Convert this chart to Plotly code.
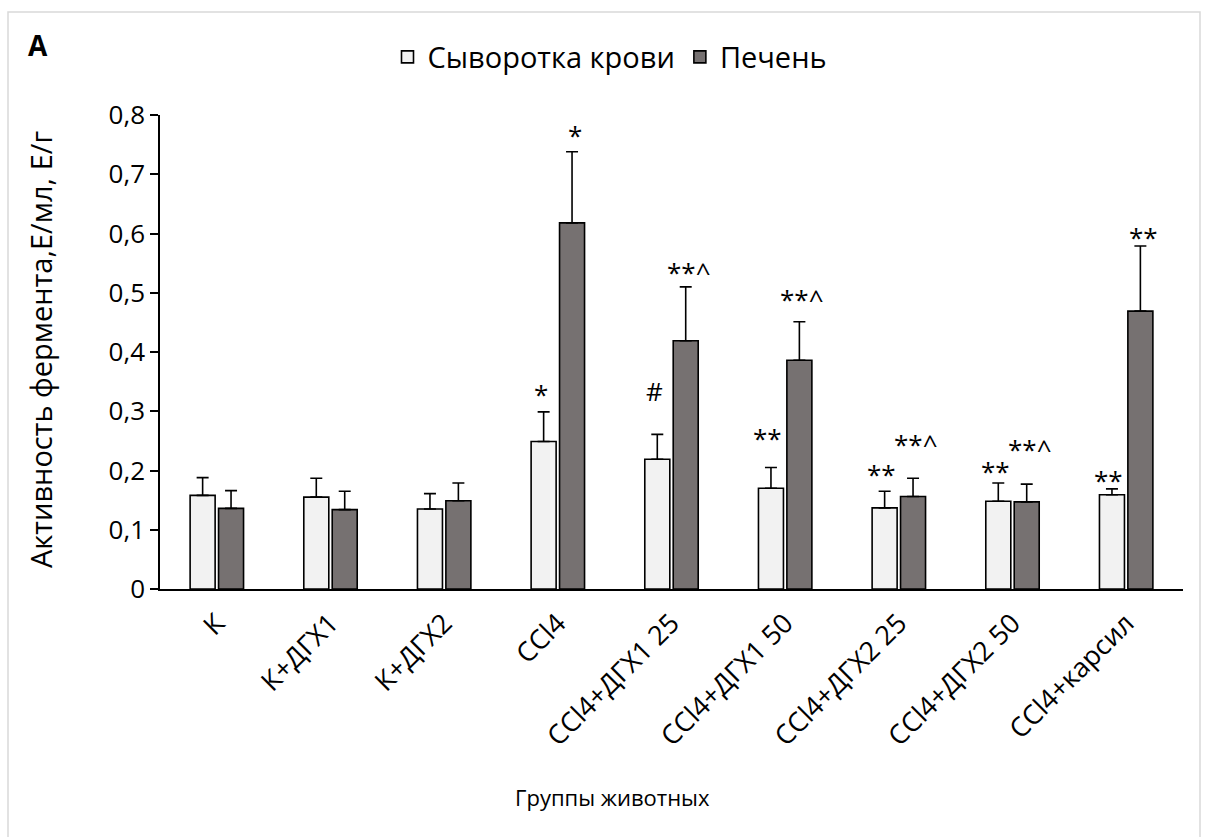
import plotly.graph_objects as go

categories = ["К", "К+ДГХ1", "К+ДГХ2", "CCl4", "CCl4+ДГХ1 25", "CCl4+ДГХ1 50",
              "CCl4+ДГХ2 25", "CCl4+ДГХ2 50", "CCl4+карсил"]
serum = [0.158, 0.155, 0.135, 0.249, 0.219, 0.170, 0.137, 0.148, 0.159]
serum_err = [0.030, 0.032, 0.026, 0.050, 0.042, 0.035, 0.028, 0.031, 0.010]
liver = [0.136, 0.134, 0.149, 0.618, 0.419, 0.386, 0.156, 0.147, 0.469]
liver_err = [0.030, 0.031, 0.030, 0.120, 0.091, 0.065, 0.031, 0.030, 0.110]
serum_marks = ["", "", "", "*", "#", "**", "**", "**", "**"]
liver_marks = ["", "", "", "*", "**^", "**^", "**^", "**^", "**"]
serum_shift = [0, 0, 0, 18, 43, 30, 17, 12, 9]
liver_shift = [0, 0, 0, 17, 15, 23, 34, 35, 9]
y_ticks = [0, 0.1, 0.2, 0.3, 0.4, 0.5, 0.6, 0.7, 0.8]
y_ticktext = ["0", "0,1", "0,2", "0,3", "0,4", "0,5", "0,6", "0,7", "0,8"]

FONT = "'Open Sans', 'Noto Sans', sans-serif"
W, H = 1208, 837
L, R, T, B = 160, 25, 115, 248
pw, ph = W - L - R, H - T - B

fig = go.Figure()
fig.add_trace(go.Bar(
    x=categories, y=serum, name="Сыворотка крови",
    marker=dict(color="#f2f2f2", line=dict(color="black", width=1.6)),
    error_y=dict(type="data", array=serum_err, arrayminus=[0]*len(serum), symmetric=False,
                 color="black", thickness=1.6, width=6),
))
fig.add_trace(go.Bar(
    x=categories, y=liver, name="Печень",
    marker=dict(color="#767171", line=dict(color="black", width=1.6)),
    error_y=dict(type="data", array=liver_err, arrayminus=[0]*len(liver), symmetric=False,
                 color="black", thickness=1.6, width=6),
))

MARKFONT = dict(size=26, color="black", family=FONT)
annotations = []
for i in range(len(categories)):
    if serum_marks[i]:
        annotations.append(dict(x=i - 0.125, y=serum[i] + serum_err[i], xref="x", yref="y",
                                text=serum_marks[i], showarrow=False, yanchor="middle",
                                yshift=serum_shift[i], xshift=-3, borderpad=0, font=MARKFONT))
    if liver_marks[i]:
        annotations.append(dict(x=i + 0.125, y=liver[i] + liver_err[i], xref="x", yref="y",
                                text=liver_marks[i], showarrow=False, yanchor="middle",
                                yshift=liver_shift[i], xshift=3, borderpad=0, font=MARKFONT))

def px(xp):
    return (xp - L) / pw

def py(yp):
    return (H - B - yp) / ph

annotations.append(dict(x=px(26), y=py(45), xref="paper", yref="paper", text="<b>A</b>",
                        showarrow=False, xanchor="left", yanchor="middle",
                        font=dict(size=28, color="black", family=FONT)))
annotations.append(dict(x=px(612), y=py(797), xref="paper", yref="paper", text="Группы животных",
                        showarrow=False, xanchor="center", yanchor="middle",
                        font=dict(size=22, color="black", family=FONT)))
annotations.append(dict(x=px(40), y=py(350), xref="paper", yref="paper",
                        text="Активность фермента,Е/мл, Е/г", textangle=-90,
                        showarrow=False, xanchor="center", yanchor="middle",
                        font=dict(size=29, color="black", family=FONT)))

fig.update_layout(
    width=W, height=H,
    margin=dict(l=L, r=R, t=T, b=B, autoexpand=False),
    paper_bgcolor="white", plot_bgcolor="white",
    barmode="group", bargap=0.5, bargroupgap=0.12,
    font=dict(family=FONT, size=24, color="black"),
    showlegend=True,
    legend=dict(orientation="h", x=px(610), xanchor="center", y=py(57), yanchor="middle",
                font=dict(size=29, family=FONT, color="black"), itemwidth=30,
                traceorder="normal"),
    annotations=annotations,
    shapes=[dict(type="rect", xref="paper", yref="paper",
                 x0=px(8), x1=px(1200), y0=py(880), y1=py(12),
                 line=dict(color="#d9d9d9", width=1.5), fillcolor="rgba(0,0,0,0)", layer="below")],
)
fig.update_xaxes(type="category", showline=True, linecolor="black", linewidth=1.5,
                 ticks="", tickangle=-45, tickfont=dict(size=27, family=FONT, color="black"),
                 ticklabelstandoff=6, showgrid=False, zeroline=False)
fig.update_yaxes(range=[0, 0.8], tickvals=y_ticks, ticktext=y_ticktext,
                 showline=True, linecolor="black", linewidth=1.5, ticks="outside", ticklen=8,
                 tickcolor="black", tickwidth=1.5,
                 tickfont=dict(size=26, family=FONT, color="black"), showgrid=False, zeroline=False)

fig.write_html("out.html")
